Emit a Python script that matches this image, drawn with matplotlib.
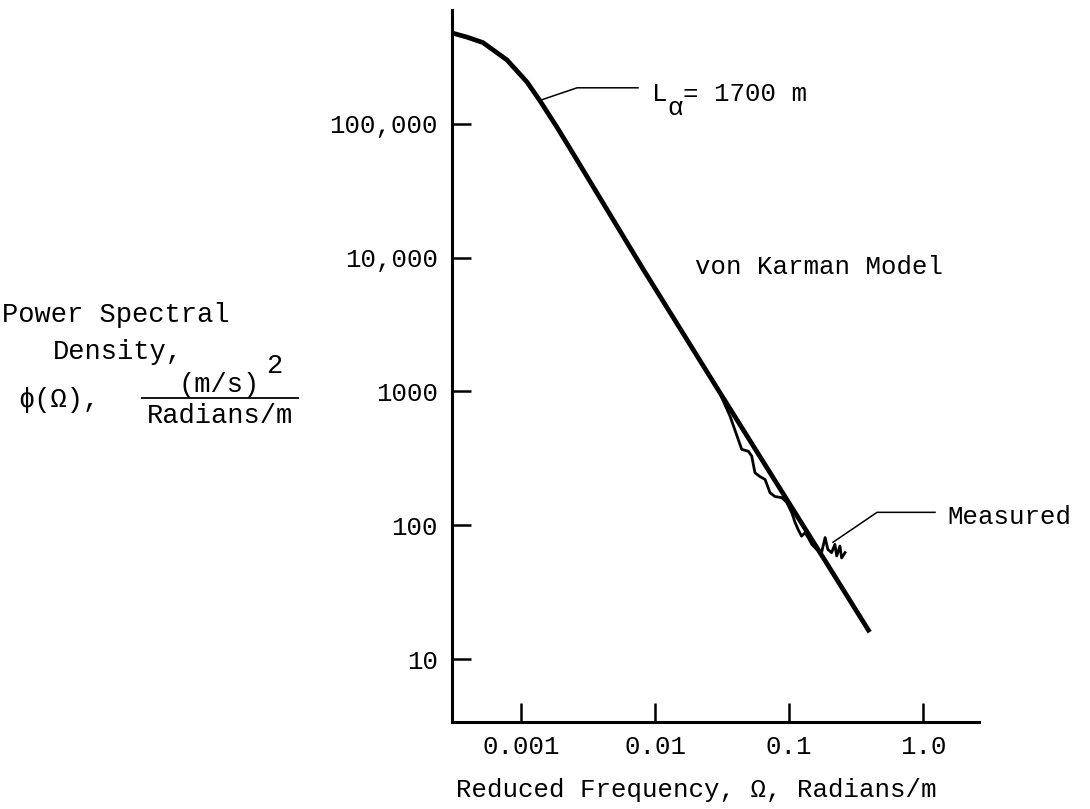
import matplotlib
matplotlib.use('Agg')
import matplotlib.pyplot as plt
from matplotlib.lines import Line2D
from matplotlib.ticker import FixedLocator, FixedFormatter, NullLocator

# von Karman model (L_alpha = 1700 m)
model_freq = [0.000305, 0.000395, 0.00052, 0.000787, 0.00111, 0.00139, 0.00186,
              0.00232, 0.00813, 0.0295, 0.170, 0.40]
model_psd = [478000, 445000, 405000, 300000, 205000, 148000, 94000,
             65500, 8250, 1035, 62.8, 15.9]

# measured spectrum
meas_freq = [0.0296, 0.0363, 0.0444, 0.0497, 0.0527, 0.0557, 0.0608, 0.0663, 0.0722,
             0.0786, 0.0883, 0.0962, 0.105, 0.111, 0.117, 0.124, 0.132, 0.139, 0.148,
             0.161, 0.175, 0.186, 0.195, 0.208, 0.220, 0.227, 0.240, 0.247, 0.262]
meas_psd = [1035, 654, 369, 358, 329, 247, 231, 220, 175,
            164, 161, 148, 124, 105, 93, 83, 88, 81, 72,
            66, 62.5, 81, 66, 62.5, 72, 59, 70, 57, 62.5]

x_ticks = [0.001, 0.01, 0.1, 1.0]
x_tick_labels = ['0.001', '0.01', '0.1', '1.0']
y_ticks = [10, 100, 1000, 10000, 100000]
y_tick_labels = ['10', '100', '1000', '10,000', '100,000']

W, H = 1090, 809
FONT = ['Liberation Mono', 'DejaVu Sans Mono']
plt.rcParams['font.family'] = FONT


def px(x, y):
    # pixel position -> figure fraction
    return x / W, 1 - y / H


fig = plt.figure(figsize=(W / 100, H / 100), dpi=100)
ax = fig.add_axes([452 / W, 1 - 722 / H, (979 - 452) / W, (722 - 10) / H])

ax.plot(model_freq, model_psd, color='black', lw=3.4, solid_capstyle='butt',
        solid_joinstyle='round')
ax.plot(meas_freq, meas_psd, color='black', lw=2.0)

ax.set_xscale('log')
ax.set_yscale('log')
ax.set_xlim(10 ** -3.515, 10 ** 0.418)
ax.set_ylim(10 ** 0.53, 10 ** 5.851)

ax.xaxis.set_major_locator(FixedLocator(x_ticks))
ax.xaxis.set_major_formatter(FixedFormatter(x_tick_labels))
ax.yaxis.set_major_locator(FixedLocator(y_ticks))
ax.yaxis.set_major_formatter(FixedFormatter(y_tick_labels))
ax.xaxis.set_minor_locator(NullLocator())
ax.yaxis.set_minor_locator(NullLocator())

for s in ['top', 'right']:
    ax.spines[s].set_visible(False)
for s in ['left', 'bottom']:
    ax.spines[s].set_linewidth(2.2)

ax.tick_params(axis='both', direction='in', length=14, width=1.8, labelsize=18.5, colors='black')
ax.tick_params(axis='x', pad=9)
ax.tick_params(axis='y', pad=10)

# leader lines
ax.plot([0.00139, 0.00262, 0.00747], [150000, 186000, 186000], color='black', lw=1.1, clip_on=False)
ax.plot([0.213, 0.454, 1.23], [74.7, 125, 125], color='black', lw=1.1, clip_on=False)

fs = 18.5
fig.text(*px(652, 94), 'L', fontsize=fs, va='center', ha='left')
fig.text(*px(667, 108), 'α', fontsize=fs, va='center', ha='left')
fig.text(*px(683, 94), '= 1700 m', fontsize=fs, va='center', ha='left')
fig.text(*px(695, 267), 'von Karman Model', fontsize=fs, va='center', ha='left')
fig.text(*px(947, 517), 'Measured', fontsize=fs, va='center', ha='left')

# x axis title
fig.text(*px(696, 790), 'Reduced Frequency, Ω, Radians/m', fontsize=fs, va='center', ha='center')

# y axis title block
yfs = 19.5
fig.text(*px(2, 315), 'Power Spectral', fontsize=yfs, va='center', ha='left')
fig.text(*px(53, 352), 'Density,', fontsize=yfs, va='center', ha='left')
fig.text(*px(18, 400), 'ϕ(Ω),', fontsize=yfs, va='center', ha='left')
fig.text(*px(219, 385), '(m/s)', fontsize=yfs, va='center', ha='center')
fig.text(*px(274, 366), '2', fontsize=yfs, va='center', ha='center')
fig.text(*px(220, 416), 'Radians/m', fontsize=yfs, va='center', ha='center')
x0, y0 = px(142, 398)
x1, _ = px(298, 398)
fig.add_artist(Line2D([x0, x1], [y0, y0], color='black', lw=1.3, transform=fig.transFigure))

fig.savefig('out.png', dpi=100)
